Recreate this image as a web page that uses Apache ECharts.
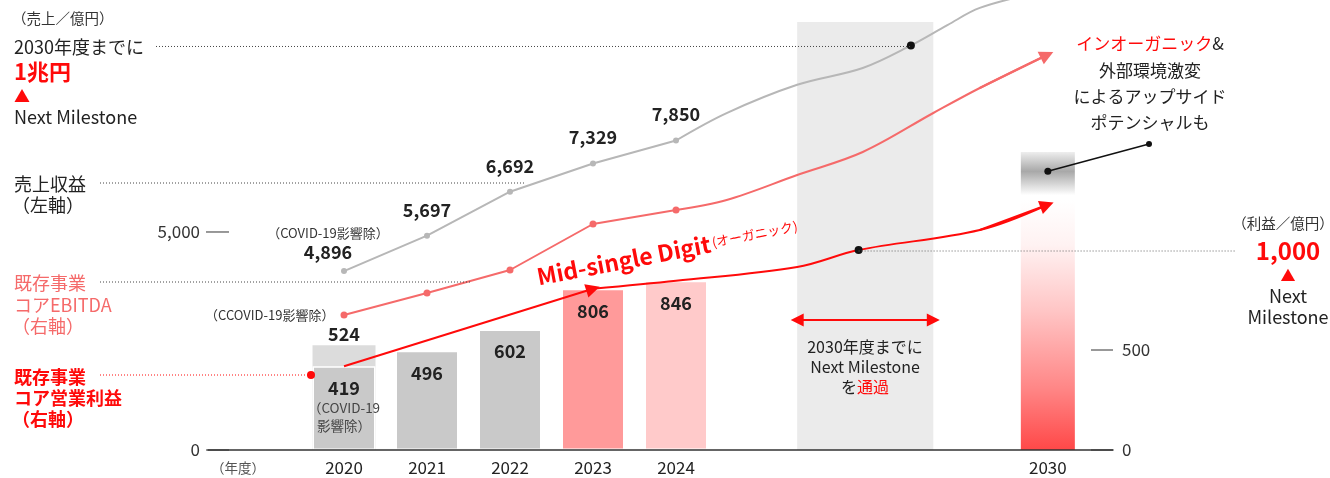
<!DOCTYPE html>
<html>
<head>
<meta charset="utf-8">
<script src="https://cdn.jsdelivr.net/npm/echarts@6.0.0/dist/echarts.min.js"></script>
<style>
html, body { margin: 0; padding: 0; background: #fff; }
#chart { width: 1330px; height: 478px; }
</style>
</head>
<body>
<div id="chart"></div>
<script>
// 年度ラベルと横位置（2030年は圧縮して表示）
const years = ['2020', '2021', '2022', '2023', '2024', '2030'];
const yearSlot = [0, 1, 2, 3, 4, 8.48];

// 売上収益（左軸, 億円）
const revenue = [4896, 5697, 6692, 7329, 7850];
const revenueOutlookSlot = [4, 4.61, 5.46, 6.25, 6.83, 7.27, 7.66, 8.39];
const revenueOutlook = [7850, 8470, 9110, 9490, 10000, 10460, 10850, 11210];
const revenueTarget = 10000;

// 既存事業コアEBITDA（右軸）
const ebitda = [675, 785, 900, 1130, 1200];
const ebitdaOutlookSlot = [4, 4.61, 5.46, 6.25, 7.10, 7.66, 8.47];
const ebitdaOutlook = [1200, 1250, 1375, 1490, 1685, 1810, 1975];

// 既存事業コア営業利益（右軸）
const coreProfit = [419, 496, 602, 806, 846];
const coreProfit2020Total = 524;
const profitOutlookSlot = [3, 4, 5.46, 6.2, 7.66, 8.47];
const profitOutlook = [806, 846, 915, 1000, 1100, 1225];
const profitTarget = 1000;

// 2030年度（オーガニック / アップサイド）
const target2030 = [1250, 240];

// 軸目盛
const leftTicks = [0, 5000];
const rightTicks = [0, 500];
const milestoneSpan = [5.46, 7.10];
const milestoneArrowLevel = 650;

const FONT = '"Noto Sans CJK JP", "Noto Sans", sans-serif';
const RED = '#ff0a0a';
const SALMON = '#f56a6a';
const GRAY_LINE = '#b7b7b7';
const barColors = ['#c9c9c9', '#c9c9c9', '#c9c9c9', '#ff9a9a', '#ffcaca'];

const fmt = v => v.toLocaleString('en-US');
const pts = (xs, ys) => ys.map((v, i) => [xs[i], v]);
const last = (a, k) => a[a.length - 1 - (k || 0)];

const chart = echarts.init(document.getElementById('chart'));

function txt(x, y, t, s) {
  return {
    type: 'text', x: x, y: y, silent: true, z: 100,
    style: Object.assign({
      text: t, fontFamily: FONT, fontSize: 18, fill: '#222',
      align: 'left', verticalAlign: 'middle'
    }, s || {})
  };
}
function seg(x1, y1, x2, y2, color, dash, w) {
  return {
    type: 'line', silent: true, z: 50,
    shape: { x1: x1, y1: y1, x2: x2, y2: y2 },
    style: { stroke: color || '#444', lineWidth: w || 1, lineDash: dash ? [1, 2] : null }
  };
}
function dot(x, y, color, r) {
  return { type: 'circle', silent: true, z: 60, shape: { cx: x, cy: y, r: r || 3 }, style: { fill: color || '#111' } };
}

const numRich = {
  b: { fontSize: 18, fontWeight: 'bold', color: '#222', lineHeight: 22, fontFamily: FONT, align: 'center' },
  s: { fontSize: 13.5, color: '#444', lineHeight: 18, fontFamily: FONT, align: 'center' }
};

const option = {
  animation: false,
  textStyle: { fontFamily: FONT },
  grid: { left: 208, right: 217, top: 0, bottom: 28 },
  xAxis: [
    {
      type: 'value', min: -1.6386, max: 9.265, z: 10,
      axisLine: { lineStyle: { color: '#333', width: 1.5 } },
      axisTick: { show: false },
      splitLine: { show: false },
      axisLabel: {
        customValues: yearSlot,
        formatter: function (v) {
          let k = 0;
          yearSlot.forEach((s, i) => { if (Math.abs(s - v) < Math.abs(yearSlot[k] - v)) k = i; });
          return years[k];
        },
        fontSize: 17, color: '#222', margin: 9
      }
    },
    { type: 'value', min: -1.6386, max: 9.265, show: false }
  ],
  yAxis: [
    {
      type: 'value', min: 0, max: 10321, position: 'left',
      axisLine: { show: false }, splitLine: { show: false }, axisTick: { show: false },
      axisLabel: { customValues: leftTicks, formatter: v => fmt(v), fontSize: 17, color: '#333', margin: 8 }
    },
    {
      type: 'value', min: 0, max: 2250, position: 'right',
      axisLine: { show: false }, splitLine: { show: false }, axisTick: { show: false },
      axisLabel: { customValues: rightTicks, formatter: v => fmt(v), fontSize: 17, color: '#333', margin: 9 }
    },
    { type: 'value', min: 848, max: 11029, show: false }
  ],
  series: [
    {
      name: 'コア営業利益（COVID-19影響除）', type: 'bar', xAxisIndex: 0, yAxisIndex: 1,
      barWidth: 63, barGap: '-100%',
      data: [[yearSlot[0], coreProfit2020Total]],
      itemStyle: { color: '#dcdcdc' },
      label: { show: true, position: 'top', distance: 2, formatter: p => fmt(p.value[1]),
        fontSize: 18, fontWeight: 'bold', color: '#222' }
    },
    {
      name: 'コア営業利益', type: 'bar', xAxisIndex: 0, yAxisIndex: 1, barWidth: 63, barGap: '-100%',
      data: coreProfit.map((v, i) => ({ value: [yearSlot[i], v], itemStyle: { color: barColors[i] } })),
      itemStyle: { borderColor: '#fff', borderWidth: 1.5 },
      label: {
        show: true, position: 'insideTop', distance: 11, align: 'center',
        formatter: p => p.dataIndex === 0
          ? '{b|' + fmt(p.value[1]) + '}\n{s|（COVID-19}\n{s|影響除）}'
          : '{b|' + fmt(p.value[1]) + '}',
        rich: numRich
      }
    },
    {
      name: '2030アップサイド', type: 'bar', xAxisIndex: 1, yAxisIndex: 1, barWidth: 54, barGap: '-100%',
      data: [[yearSlot[5], target2030[0] + target2030[1]]],
      itemStyle: {
        color: { type: 'linear', x: 0, y: 0, x2: 0, y2: 1, colorStops: [
          { offset: 0, color: '#eeeeee' }, { offset: 0.065, color: '#a8a8a8' },
          { offset: 0.145, color: '#ffffff' }, { offset: 1, color: '#ffffff' }] }
      }
    },
    {
      name: '2030オーガニック', type: 'bar', xAxisIndex: 1, yAxisIndex: 1, barWidth: 54, barGap: '-100%',
      data: [[yearSlot[5], target2030[0]]],
      itemStyle: {
        color: { type: 'linear', x: 0, y: 0, x2: 0, y2: 1, colorStops: [
          { offset: 0, color: '#ffffff' }, { offset: 0.18, color: '#fff2f2' },
          { offset: 0.45, color: '#ffc4c4' }, { offset: 0.75, color: '#ff8787' },
          { offset: 1, color: '#ff4848' }] }
      }
    },
    {
      name: '売上収益', type: 'line', xAxisIndex: 0, yAxisIndex: 2,
      data: pts(yearSlot, revenue).map((p, i) => i === 0
        ? { value: p, label: { offset: [-16, 0], distance: 6,
            formatter: '{s|（COVID-19影響除）}\n{b|' + fmt(revenue[0]) + '}' } }
        : { value: p }),
      symbol: 'circle', symbolSize: 6, z: 4,
      itemStyle: { color: GRAY_LINE }, lineStyle: { color: GRAY_LINE, width: 2 },
      label: {
        show: true, position: 'top', distance: 13, align: 'center',
        formatter: p => '{b|' + fmt(p.value[1]) + '}',
        rich: {
          b: { fontSize: 18, fontWeight: 'bold', color: '#222', lineHeight: 20, fontFamily: FONT, align: 'center' },
          s: { fontSize: 13, color: '#333', lineHeight: 18, fontFamily: FONT, align: 'center' }
        }
      }
    },
    {
      name: '売上収益見通し', type: 'line', xAxisIndex: 0, yAxisIndex: 2, smooth: 0.35, z: 4,
      data: pts(revenueOutlookSlot, revenueOutlook).map(p => p[1] === revenueTarget
        ? { value: p, symbol: 'circle', symbolSize: 8, itemStyle: { color: '#111' } }
        : { value: p, symbol: 'none' }),
      lineStyle: { color: GRAY_LINE, width: 2 }
    },
    {
      name: 'コアEBITDA', type: 'line', xAxisIndex: 0, yAxisIndex: 1, z: 4,
      data: pts(yearSlot, ebitda).map((p, i) => i === 0
        ? { value: p, label: { show: true } } : { value: p }),
      symbol: 'circle', symbolSize: 7,
      itemStyle: { color: SALMON }, lineStyle: { color: SALMON, width: 2 },
      label: { show: false, position: 'left', distance: 6, formatter: '（CCOVID-19影響除）', fontSize: 13, color: '#333' },
      markArea: {
        silent: true, itemStyle: { color: '#ebebeb' },
        data: [[{ xAxis: milestoneSpan[0], yAxis: 2140 }, { xAxis: milestoneSpan[1], yAxis: 0 }]]
      },
      markLine: {
        silent: true, symbol: ['triangle', 'triangle'], symbolSize: 13,
        label: { show: false },
        lineStyle: { color: RED, width: 2, type: 'solid' },
        data: [[{ coord: [milestoneSpan[0], milestoneArrowLevel] }, { coord: [milestoneSpan[1], milestoneArrowLevel] }]]
      }
    },
    {
      name: 'コアEBITDA見通し', type: 'line', xAxisIndex: 0, yAxisIndex: 1, smooth: 0.35, z: 4,
      data: pts(ebitdaOutlookSlot, ebitdaOutlook), symbol: 'none',
      lineStyle: { color: SALMON, width: 2 },
      markLine: {
        silent: true, symbol: ['none', 'triangle'], symbolSize: 14,
        label: { show: false },
        lineStyle: { color: SALMON, width: 2, type: 'solid' },
        data: [[
          { coord: [last(ebitdaOutlookSlot, 1), last(ebitdaOutlook, 1)] },
          { coord: [last(ebitdaOutlookSlot), last(ebitdaOutlook)] }
        ]]
      }
    },
    {
      name: 'コア営業利益見通し', type: 'line', xAxisIndex: 0, yAxisIndex: 1, smooth: 0.35, z: 4,
      data: pts(profitOutlookSlot, profitOutlook).map(p => p[1] === profitTarget
        ? { value: p, symbol: 'circle', symbolSize: 8, itemStyle: { color: '#111' } }
        : { value: p, symbol: 'none' }),
      lineStyle: { color: RED, width: 2 },
      markLine: {
        silent: true, symbol: ['none', 'triangle'], symbolSize: 14,
        label: { show: false },
        lineStyle: { color: RED, width: 2, type: 'solid' },
        data: [
          [{ coord: [yearSlot[0], coreProfit[0]] }, { coord: [yearSlot[3], coreProfit[3]] }],
          [
            { coord: [last(profitOutlookSlot, 1), last(profitOutlook, 1)] },
            { coord: [last(profitOutlookSlot), last(profitOutlook)] }
          ]
        ]
      }
    }
  ]
};

chart.setOption(option);

// 軸の目盛り線や注記の引き出し線は、描画後の座標から配置する
const px = (xi, yi, x, y) => chart.convertToPixel({ xAxisIndex: xi, yAxisIndex: yi }, [x, y]);
const revDot = px(0, 2, revenueOutlookSlot[revenueOutlook.indexOf(revenueTarget)], revenueTarget);
const profDot = px(0, 1, profitOutlookSlot[profitOutlook.indexOf(profitTarget)], profitTarget);
const upsideDot = px(1, 1, yearSlot[5], target2030[0] + target2030[1] * 0.6);
const left0 = px(0, 0, -1.6386, 0)[0];
const right0 = px(0, 0, 9.265, 0)[0];

const graphics = [];
leftTicks.forEach(v => {
  const y = chart.convertToPixel({ yAxisIndex: 0 }, v);
  graphics.push(seg(left0 - 2, y, left0 + 21, y, '#333'));
});
rightTicks.forEach(v => {
  const y = chart.convertToPixel({ yAxisIndex: 1 }, v);
  graphics.push(seg(right0 - 22, y, right0, y, '#333'));
});

graphics.push(
  // 左側の凡例テキスト
  txt(12, 18, '（売上／億円）', { fontSize: 14.5, fill: '#333' }),
  txt(14, 47, '2030年度までに'),
  txt(14, 72, '1兆円', { fontSize: 22, fontWeight: 'bold', fill: RED }),
  txt(14, 96, '▲', { fontSize: 16, fill: RED }),
  txt(14, 117, 'Next Milestone'),
  seg(156, revDot[1] + 1, revDot[0], revDot[1] + 1, '#444', true),

  txt(14, 184, '売上収益'),
  txt(12, 205, '（左軸）'),
  seg(100, 183, 525, 183, '#444', true),

  txt(14, 283, '既存事業', { fill: SALMON }),
  txt(14, 305, 'コアEBITDA', { fill: SALMON }),
  txt(12, 326, '（右軸）', { fill: SALMON }),
  seg(100, 282, 470, 282, '#444', true),

  txt(14, 377, '既存事業', { fill: RED, fontWeight: 'bold' }),
  txt(14, 398, 'コア営業利益', { fill: RED, fontWeight: 'bold' }),
  txt(12, 419, '（右軸）', { fill: RED, fontWeight: 'bold' }),
  seg(100, 375, 308, 375, RED, true),
  dot(311, 375, RED, 4),

  txt(238, 468, '（年度）', { fontSize: 13.5, fill: '#555', align: 'center' }),

  // Mid-single Digit
  {
    type: 'text', x: 537, y: 277, rotation: 0.19, silent: true, z: 100,
    style: {
      text: '{a|Mid-single Digit}{b|(オーガニック)}',
      align: 'left', verticalAlign: 'middle',
      rich: {
        a: { fontSize: 23, fontWeight: 'bold', fill: RED, fontFamily: FONT },
        b: { fontSize: 13, fill: RED, fontFamily: FONT, padding: [0, 0, 2, 2] }
      }
    }
  },

  // マイルストーン帯
  txt(865, 347, '2030年度までに', { fontSize: 16, align: 'center' }),
  txt(865, 367, 'Next Milestone', { fontSize: 16, align: 'center' }),
  {
    type: 'text', x: 865, y: 387, silent: true, z: 100,
    style: {
      text: '{k|を}{r|通過}', align: 'center', verticalAlign: 'middle',
      rich: { k: { fontSize: 16, fill: '#222', fontFamily: FONT }, r: { fontSize: 16, fill: RED, fontFamily: FONT } }
    }
  },
  seg(profDot[0], profDot[1] + 1, 1236, profDot[1] + 1, '#666', true),

  // 右側の注記
  {
    type: 'text', x: 1150, y: 44, silent: true, z: 100,
    style: {
      text: '{r|インオーガニック}{k|&}', align: 'center', verticalAlign: 'middle',
      rich: { r: { fontSize: 17, fill: RED, fontFamily: FONT }, k: { fontSize: 17, fill: '#222', fontFamily: FONT } }
    }
  },
  txt(1150, 71, '外部環境激変', { fontSize: 17, align: 'center' }),
  txt(1150, 97, 'によるアップサイド', { fontSize: 17, align: 'center' }),
  txt(1150, 123, 'ポテンシャルも', { fontSize: 17, align: 'center' }),
  seg(upsideDot[0], upsideDot[1], 1149, 144, '#111', false, 1.5),
  dot(upsideDot[0], upsideDot[1], '#111', 3.5),
  dot(1149, 144, '#111', 3),

  txt(1283, 223, '（利益／億円）', { fontSize: 14.5, fill: '#333', align: 'center' }),
  txt(1288, 251, '1,000', { fontSize: 24, fontWeight: 'bold', fill: RED, align: 'center' }),
  txt(1288, 275, '▲', { fontSize: 15, fill: RED, align: 'center' }),
  txt(1288, 296, 'Next', { align: 'center' }),
  txt(1288, 317, 'Milestone', { align: 'center' })
);

chart.setOption({ graphic: graphics });
</script>
</body>
</html>
